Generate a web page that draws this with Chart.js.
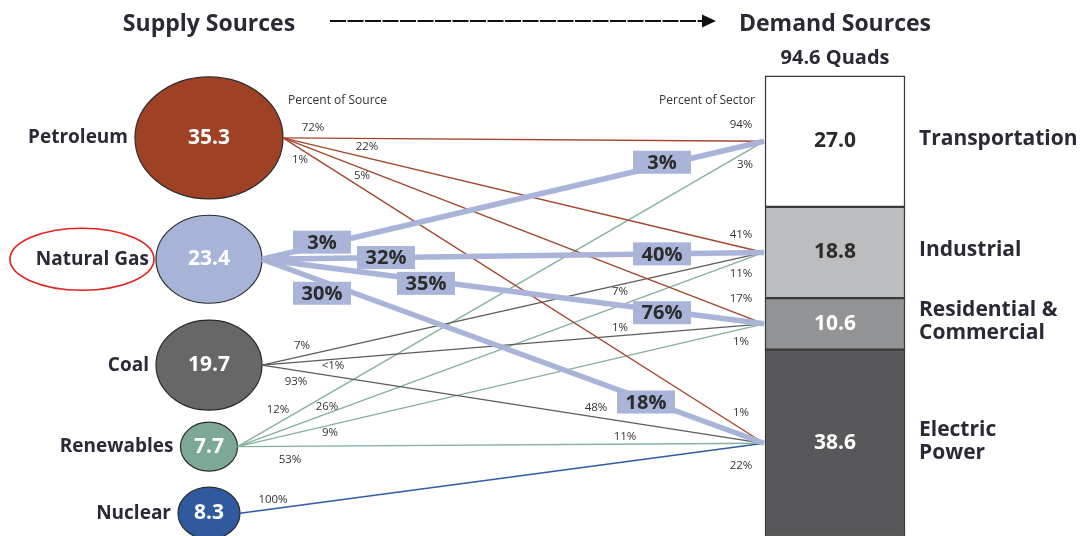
<!DOCTYPE html>
<html>
<head>
<meta charset="utf-8">
<title>Supply and Demand Sources</title>
<script src="https://cdn.jsdelivr.net/npm/chart.js@4"></script>
<style>
  html, body { margin: 0; padding: 0; background: #fff; }
  #wrap { width: 1080px; height: 536px; }
</style>
</head>
<body>
<div id="wrap"><canvas id="flowChart"></canvas></div>
<script>
// supply side (quads)
const sources = ['Petroleum', 'Natural Gas', 'Coal', 'Renewables', 'Nuclear'];
const supplyQuads = [35.3, 23.4, 19.7, 7.7, 8.3];

// demand side (quads)
const sectors = ['Transportation', 'Industrial', 'Residential &\nCommercial', 'Electric\nPower'];
const demandQuads = [27.0, 18.8, 10.6, 38.6];
const totalQuads = 94.6;

// flows: source index -> sector index, with the two percentages printed on each line
const flowSource = [0, 0, 0, 0, 1, 1, 1, 1, 2, 2, 2, 3, 3, 3, 3, 4];
const flowSector = [0, 1, 2, 3, 0, 1, 2, 3, 1, 2, 3, 0, 1, 2, 3, 3];
const pctOfSource = ['72%', '22%', '5%', '1%', '3%', '32%', '35%', '30%', '7%', '<1%', '93%', '12%', '26%', '9%', '53%', '100%'];
const pctOfSector = ['94%', '41%', '17%', '1%', '3%', '40%', '76%', '18%', '7%', '1%', '48%', '3%', '11%', '1%', '11%', '22%'];

// ---- layout & style ----
const NODE_X = 209;          // centre of the supply bubbles
const BAR_X = 835;           // centre of the demand column
const BAR_W = 140;
const LINE_END_X = 764;
const Y_MIN = -15.6, Y_MAX = 94.8;
const rowY = [12.8, 37.8, 59.6, 76.4, 90.1];     // supply rows, in y-axis units
const nodeRx = [74, 53, 53, 28.5, 31];
const nodeRy = [61, 44, 45, 24.5, 26];
const nodeFill = ['#9f4124', '#a8b3d8', '#676767', '#7ea896', '#2f5b9e'];
const flowColor = ['#a3462a', '#a9b4d8', '#5c5c5c', '#86b09e', '#2e5ca5'];
const flowWidth = [1.4, 5.5, 1.3, 1.4, 1.5];
const sectorFill = ['#ffffff', '#bcbdbf', '#929395', '#58585a'];
const sectorText = ['#2b2b2b', '#2b2b2b', '#ffffff', '#ffffff'];

// label anchors along each flow: [x, offset from the line in px]
const srcLabelAt = [[313, -10], [367, -11], [362, 7], [300, 11], [322, -3], [386, 0], [426, 3], [322, 12],
                    [302, -10], [333, 6], [296, 11], [278, -13], [327, -7], [330, 8], [290, 13], [273, -9]];
const secLabelAt = [[741, -16], [741, -12], [741, -16], [741, -16], [662, -3], [662, 0], [662, 2], [646, 2],
                    [620, 7], [620, -8], [596, -9], [745, 12], [741, 13], [741, 13], [625, -7], [741, 19]];

const FONT = '"Open Sans", "DejaVu Sans", sans-serif';
const INK = '#2a2a36';

// stacked positions of the demand column
const sectorStart = [];
let acc = 0;
demandQuads.forEach(v => { sectorStart.push(acc); acc += v; });
const sectorMid = demandQuads.map((v, i) => sectorStart[i] + v / 2);

const datasets = [];

// natural gas lines first so they sit above the thin ones
const flowOrder = flowSource.map((s, i) => i).sort((a, b) => (flowSource[a] === 1 ? 0 : 1) - (flowSource[b] === 1 ? 0 : 1));
const flowDatasetIndex = [];
flowOrder.forEach(i => {
  const s = flowSource[i];
  flowDatasetIndex[i] = datasets.length;
  datasets.push({
    type: 'line',
    label: sources[s] + ' → ' + sectors[flowSector[i]],
    data: [
      { x: NODE_X + nodeRx[s], y: rowY[s] },
      { x: LINE_END_X, y: sectorMid[flowSector[i]] }
    ],
    borderColor: flowColor[s],
    borderWidth: flowWidth[s],
    pointRadius: 0,
    tension: 0,
    fill: false
  });
});

datasets.push({
  type: 'bar',
  label: 'Demand',
  data: demandQuads.map((v, i) => ({ x: BAR_X, y: [sectorStart[i], sectorStart[i] + v] })),
  backgroundColor: sectorFill,
  borderColor: '#3a3a3a',
  borderWidth: 1.5,
  borderSkipped: false,
  barThickness: BAR_W
});

function lineYAt(chart, flow, px) {
  const pts = chart.getDatasetMeta(flowDatasetIndex[flow]).data;
  const a = pts[0], b = pts[1];
  return a.y + (b.y - a.y) * (px - a.x) / (b.x - a.x);
}

const decor = {
  id: 'flowDecor',
  beforeDatasetsDraw(chart) {
    const ctx = chart.ctx, xs = chart.scales.x, ys = chart.scales.y;
    ctx.save();
    sources.forEach((name, i) => {
      const cx = xs.getPixelForValue(NODE_X), cy = ys.getPixelForValue(rowY[i]);
      ctx.beginPath();
      ctx.ellipse(cx, cy, nodeRx[i], nodeRy[i], 0, 0, Math.PI * 2);
      ctx.fillStyle = nodeFill[i];
      ctx.fill();
      ctx.lineWidth = 1.2;
      ctx.strokeStyle = '#2a2a2a';
      ctx.stroke();
    });
    ctx.restore();
  },
  afterDatasetsDraw(chart) {
    const ctx = chart.ctx, xs = chart.scales.x, ys = chart.scales.y;
    ctx.save();
    ctx.textBaseline = 'middle';

    // headings and arrow
    ctx.fillStyle = INK;
    ctx.font = 'bold 23px ' + FONT;
    ctx.textAlign = 'center';
    ctx.fillText('Supply Sources', xs.getPixelForValue(NODE_X), 24);
    ctx.fillText('Demand Sources', xs.getPixelForValue(BAR_X), 24);
    ctx.strokeStyle = '#111';
    ctx.lineWidth = 2;
    ctx.setLineDash([16, 1.5]);
    ctx.beginPath();
    ctx.moveTo(330, 21);
    ctx.lineTo(704, 21);
    ctx.stroke();
    ctx.setLineDash([]);
    ctx.fillStyle = '#111';
    ctx.beginPath();
    ctx.moveTo(702, 14.5);
    ctx.lineTo(716, 21);
    ctx.lineTo(702, 27.5);
    ctx.closePath();
    ctx.fill();

    ctx.fillStyle = INK;
    ctx.font = 'bold 20px ' + FONT;
    ctx.fillText(totalQuads.toFixed(1) + ' Quads', xs.getPixelForValue(BAR_X), 58);

    ctx.font = '12px ' + FONT;
    ctx.fillStyle = '#333';
    ctx.textAlign = 'left';
    ctx.fillText('Percent of Source', 288, 101);
    ctx.textAlign = 'right';
    ctx.fillText('Percent of Sector', 755, 101);

    // supply names and values
    sources.forEach((name, i) => {
      const cx = xs.getPixelForValue(NODE_X), cy = ys.getPixelForValue(rowY[i]);
      ctx.fillStyle = INK;
      ctx.font = 'bold 19px ' + FONT;
      ctx.textAlign = 'right';
      ctx.fillText(name, cx - nodeRx[i] - 7, cy);
      ctx.fillStyle = '#ffffff';
      ctx.font = 'bold 21px ' + FONT;
      ctx.textAlign = 'center';
      ctx.fillText(supplyQuads[i].toFixed(1), cx, cy);
    });

    // highlight ring round Natural Gas
    const ngY = ys.getPixelForValue(rowY[1]);
    ctx.beginPath();
    ctx.ellipse(82, ngY, 72, 31, 0, 0, Math.PI * 2);
    ctx.strokeStyle = '#e2231f';
    ctx.lineWidth = 1.6;
    ctx.stroke();

    // demand values and names
    demandQuads.forEach((v, i) => {
      const my = ys.getPixelForValue(sectorMid[i]);
      ctx.fillStyle = sectorText[i];
      ctx.font = 'bold 21px ' + FONT;
      ctx.textAlign = 'center';
      ctx.fillText(v.toFixed(1), xs.getPixelForValue(BAR_X), my);
      const lines = sectors[i].split('\n');
      ctx.fillStyle = INK;
      ctx.textAlign = 'left';
      lines.forEach((t, k) => {
        ctx.fillText(t, xs.getPixelForValue(BAR_X) + BAR_W / 2 + 14, my - 2 + (k - (lines.length - 1) / 2) * 23);
      });
    });

    // percentages on the flows
    flowSource.forEach((s, i) => {
      [[pctOfSource[i], srcLabelAt[i]], [pctOfSector[i], secLabelAt[i]]].forEach(([txt, at]) => {
        const px = xs.getPixelForValue(at[0]);
        const py = lineYAt(chart, i, px) + at[1];
        ctx.textAlign = 'center';
        if (s === 1) {
          ctx.fillStyle = flowColor[1];
          ctx.fillRect(px - 29, py - 11.5, 58, 23);
          ctx.fillStyle = '#2b2b2b';
          ctx.font = 'bold 20px ' + FONT;
          ctx.fillText(txt, px, py + 1);
        } else {
          ctx.fillStyle = '#333';
          ctx.font = '11.5px ' + FONT;
          ctx.fillText(txt, px, py);
        }
      });
    });
    ctx.restore();
  }
};

new Chart(document.getElementById('flowChart'), {
  type: 'bar',
  data: { datasets: datasets },
  options: {
    responsive: true,
    maintainAspectRatio: false,
    animation: false,
    layout: { padding: 0 },
    plugins: { legend: { display: false }, tooltip: { enabled: false } },
    scales: {
      x: { type: 'linear', min: 0, max: 1080, offset: false, display: false },
      y: { type: 'linear', min: Y_MIN, max: Y_MAX, reverse: true, display: false }
    }
  },
  plugins: [decor]
});
</script>
</body>
</html>
